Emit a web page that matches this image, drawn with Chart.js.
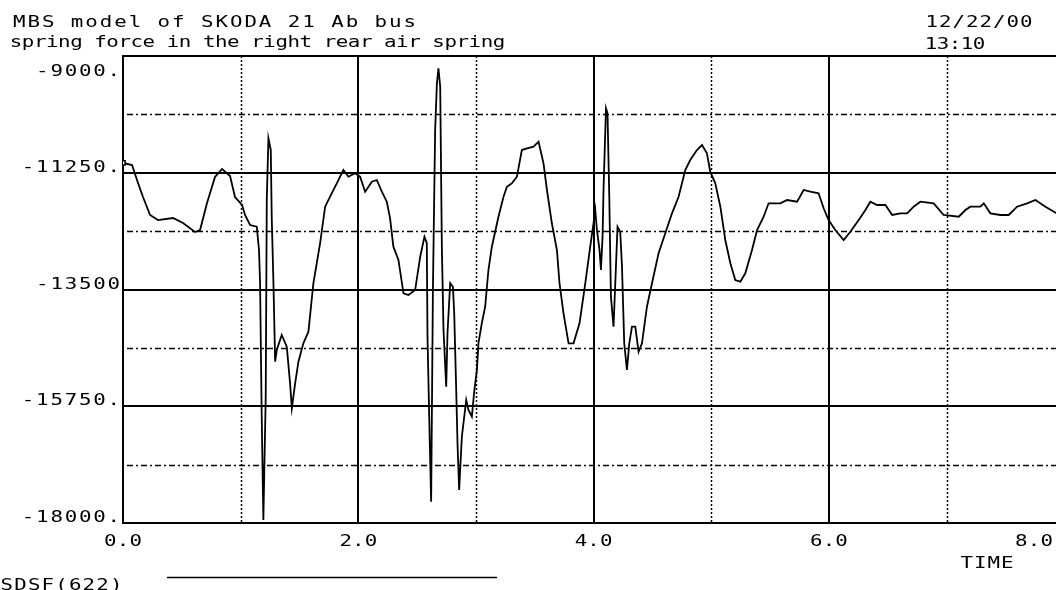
<!DOCTYPE html>
<html>
<head>
<meta charset="utf-8">
<script src="https://cdn.jsdelivr.net/npm/chart.js@4/dist/chart.umd.min.js"></script>
<style>
  html, body { margin: 0; padding: 0; background: #fff; overflow: hidden; }
  #plot { display: block; }
</style>
</head>
<body>
<canvas id="plot" width="1062" height="590"></canvas>
<script>
// spring force SDSF(622), time in s
var timeSec = [0.000,0.077,0.119,0.170,0.230,0.298,0.425,0.510,0.612,0.655,0.714,0.782,0.842,0.910,0.952,1.012,1.037,1.080,1.137,1.156,
  1.165,1.179,1.193,1.213,1.222,1.236,1.256,1.264,1.278,1.293,1.307,1.349,1.392,1.420,1.435,1.463,1.491,1.533,1.576,1.618,
  1.675,1.718,1.760,1.817,1.873,1.916,1.973,2.015,2.058,2.115,2.157,2.200,2.242,2.270,2.298,2.341,2.384,2.426,2.483,2.526,
  2.562,2.582,2.588,2.605,2.619,2.634,2.653,2.668,2.681,2.696,2.710,2.724,2.747,2.758,2.781,2.804,2.815,2.832,2.843,2.857,
  2.880,2.917,2.936,2.965,2.985,3.008,3.021,3.050,3.078,3.106,3.135,3.163,3.191,3.234,3.263,3.305,3.348,3.390,3.433,3.489,
  3.532,3.574,3.603,3.645,3.688,3.710,3.744,3.787,3.829,3.880,3.929,3.971,3.999,4.014,4.028,4.050,4.062,4.076,4.084,4.105,
  4.118,4.133,4.147,4.169,4.184,4.203,4.226,4.241,4.260,4.283,4.303,4.326,4.354,4.382,4.411,4.453,4.496,4.552,4.609,4.666,
  4.722,4.779,4.821,4.878,4.921,4.963,4.991,5.034,5.077,5.119,5.162,5.204,5.247,5.289,5.346,5.389,5.445,5.487,5.587,5.644,
  5.729,5.785,5.842,5.912,5.955,5.997,6.054,6.125,6.182,6.253,6.310,6.352,6.409,6.480,6.537,6.607,6.664,6.720,6.777,6.890,
  6.975,7.103,7.160,7.202,7.287,7.316,7.372,7.457,7.528,7.599,7.684,7.755,7.840,7.934];
var springForce = [-11062,-11101,-11390,-11717,-12064,-12161,-12122,-12218,-12392,-12353,-11833,-11332,-11178,-11313,-11717,-11871,-12064,-12257,-12290,-12739,
  -13380,-15951,-17942,-15566,-11775,-10586,-10812,-12097,-13317,-14891,-14666,-14377,-14602,-15308,-15790,-15308,-14891,-14537,-14313,-13380,
  -12610,-11904,-11712,-11453,-11197,-11326,-11261,-11326,-11615,-11422,-11390,-11615,-11808,-12128,-12675,-12931,-13573,-13606,-13510,-12868,
  -12483,-12604,-14410,-16208,-17590,-13510,-10426,-9526,-9237,-9592,-12675,-14281,-15373,-14338,-13375,-13446,-13953,-15437,-16458,-17364,
  -16337,-15630,-15822,-15951,-15470,-15051,-14531,-14146,-13832,-13124,-12675,-12386,-12097,-11712,-11519,-11453,-11326,-10812,-10779,-10748,
  -10652,-11068,-11582,-12224,-12739,-13380,-13959,-14537,-14537,-14151,-13380,-12675,-12224,-11968,-12353,-12739,-13124,-12483,-11582,-10008,
  -10104,-11712,-13639,-14217,-13380,-12290,-12386,-13061,-14537,-15051,-14537,-14217,-14217,-14699,-14537,-13832,-13380,-12803,-12417,-12032,
  -11712,-11197,-11004,-10812,-10715,-10875,-11230,-11453,-11904,-12546,-12995,-13317,-13350,-13188,-12739,-12353,-12097,-11839,-11839,-11775,
  -11808,-11582,-11615,-11646,-11935,-12161,-12353,-12546,-12386,-12161,-11968,-11808,-11872,-11872,-12064,-12032,-12032,-11904,-11808,-11839,
  -12064,-12097,-11968,-11904,-11904,-11839,-12032,-12064,-12064,-11904,-11839,-11775,-11904,-12032];

var yTickValues = [-9000, -11250, -13500, -15750, -18000];
var yTickLabels = ['-9000.', '-11250.', '-13500', '-15750.', '-18000.'];
var yMinorValues = [-10125, -12375, -14625, -16875];
var xTickValues = [0, 2, 4, 6, 8];
var xTickLabels = ['0.0', '2.0', '4.0', '6.0', '8.0'];
var xMinorValues = [1, 3, 5, 7];
var xMax = 7.934;

var titleLine1 = 'MBS model of SKODA 21 Ab bus';
var titleLine2 = 'spring force in the right rear air spring';
var plotDate = '12/22/00';
var plotTime = '13:10';
var xAxisName = 'TIME';
var seriesName = 'SDSF(622)';

var FONT = '16px "DejaVu Sans Mono", monospace';

// plotter style text: every char in an equal cell, glyphs stretched wide
function cellText(ctx, str, left, baseline, width, stretch) {
  var step = width / str.length;
  var sx = stretch || 1.3;
  ctx.textAlign = 'center';
  ctx.textBaseline = 'alphabetic';
  for (var i = 0; i < str.length; i++) {
    ctx.save();
    ctx.translate(left + step * (i + 0.5), baseline);
    ctx.scale(sx, 1);
    ctx.fillText(str[i], 0, 0);
    ctx.restore();
  }
}

var minorGrid = {
  id: 'minorGrid',
  beforeDatasetsDraw: function (chart) {
    var ctx = chart.ctx, a = chart.chartArea;
    var xs = chart.scales.x, ys = chart.scales.y;
    ctx.save();
    ctx.strokeStyle = '#000';
    ctx.lineWidth = 1.5;
    ctx.setLineDash([6, 3, 2, 3]);
    yMinorValues.forEach(function (v) {
      var py = Math.round(ys.getPixelForValue(v)) + 0.5;
      ctx.beginPath(); ctx.moveTo(a.left + 4, py); ctx.lineTo(a.right, py); ctx.stroke();
    });
    ctx.setLineDash([2, 2]);
    xMinorValues.forEach(function (v) {
      var px = Math.round(xs.getPixelForValue(v)) + 0.5;
      ctx.beginPath(); ctx.moveTo(px, a.top); ctx.lineTo(px, a.bottom); ctx.stroke();
    });
    ctx.restore();
  }
};

var labels = {
  id: 'labels',
  afterDraw: function (chart) {
    var ctx = chart.ctx, a = chart.chartArea;
    var xs = chart.scales.x, ys = chart.scales.y;
    ctx.save();
    ctx.fillStyle = '#000';
    ctx.font = FONT;
    cellText(ctx, titleLine1, 12, 27, 405);
    cellText(ctx, titleLine2, 10, 47, 495);
    cellText(ctx, plotDate, 925, 27, 108);
    cellText(ctx, plotTime, 925, 49, 60);

    yTickValues.forEach(function (v, i) {
      var py = ys.getPixelForValue(v);
      var base = (py - a.top < 10) ? py + 20 : py - 1;
      var w = yTickLabels[i].length * 14.3;
      cellText(ctx, yTickLabels[i], 121 - w, base, w);
    });
    xTickValues.forEach(function (v, i) {
      var px = Math.min(xs.getPixelForValue(v), 1034);
      cellText(ctx, xTickLabels[i], px - 19, 546, 38);
    });
    cellText(ctx, xAxisName, 960, 568, 54);

    // legend
    cellText(ctx, seriesName, 0, 590, 123);
    ctx.strokeStyle = '#000';
    ctx.lineWidth = 1.5;
    ctx.beginPath(); ctx.moveTo(167, 577.5); ctx.lineTo(497, 577.5); ctx.stroke();
    ctx.restore();
  }
};

var points = timeSec.map(function (t, i) { return { x: t, y: springForce[i] }; });

new Chart('plot', {
  type: 'line',
  data: {
    datasets: [{
      label: seriesName,
      data: points,
      borderColor: '#000',
      borderWidth: 1.8,
      tension: 0,
      pointStyle: 'rect',
      pointRadius: function (c) { return c.dataIndex === 0 ? 3 : 0; },
      pointBackgroundColor: '#fff',
      pointBorderColor: '#000',
      pointBorderWidth: 1.5
    }]
  },
  options: {
    responsive: false,
    animation: false,
    devicePixelRatio: 1,
    layout: { padding: { left: 123, top: 56, right: 0, bottom: 67 } },
    plugins: { legend: { display: false }, tooltip: { enabled: false } },
    scales: {
      x: {
        type: 'linear',
        min: 0,
        max: xMax,
        afterBuildTicks: function (s) { s.ticks = xTickValues.filter(function (v) { return v <= xMax; }).map(function (v) { return { value: v }; }); },
        ticks: { display: false },
        grid: { color: '#000', lineWidth: 2, drawTicks: false },
        border: { display: true, color: '#000', width: 2 }
      },
      y: {
        type: 'linear',
        min: -18000,
        max: -9000,
        afterBuildTicks: function (s) { s.ticks = yTickValues.map(function (v) { return { value: v }; }); },
        ticks: { display: false },
        grid: { color: '#000', lineWidth: 2, drawTicks: false },
        border: { display: true, color: '#000', width: 2 }
      }
    }
  },
  plugins: [minorGrid, labels]
});
</script>
</body>
</html>
